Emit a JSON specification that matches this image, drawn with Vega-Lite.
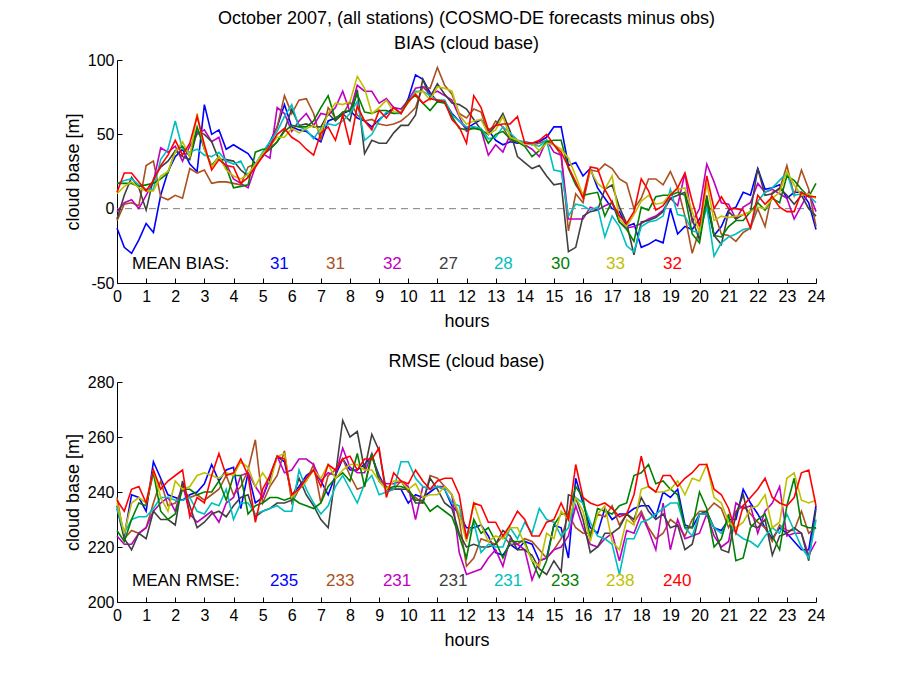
{
"$schema":"https://vega.github.io/schema/vega-lite/v6.json",
"autosize":{"type":"pad"},
"padding":{"left":64,"top":10,"right":0,"bottom":0},
"background":"white",
"bounds":"flush",
"spacing":99,
"config":{"font":"Liberation Sans","view":{"stroke":null},
"axis":{"labelFontSize":16,"titleFontSize":18,"titleFontWeight":"normal","labelColor":"black","titleColor":"black","domainColor":"black","tickColor":"black","grid":false,"tickSize":-5,"labelPadding":8,"domainWidth":1,"tickWidth":1,"labelFlush":false,"labelOverlap":false},
"title":{"fontSize":18,"fontWeight":"normal","color":"black"},
"text":{"fontSize":17,"align":"left","baseline":"middle"}},
"datasets":{
"bias":[
{"h":0,"b":-13,"n":-8,"m":-2,"k":-7,"c":17,"g":17,"y":10,"r":11},
{"h":0.25,"b":-26,"n":3,"m":4,"k":9,"c":19,"g":17,"y":15,"r":24},
{"h":0.5,"b":-30,"n":4,"m":6,"k":21,"c":20,"g":17,"y":18,"r":24},
{"h":0.75,"b":-21,"n":2,"m":0,"k":14,"c":16,"g":15,"y":14,"r":18},
{"h":1,"b":-10,"n":29,"m":9,"k":-1,"c":13,"g":16,"y":12,"r":12},
{"h":1.25,"b":-16,"n":32,"m":18,"k":20,"c":13,"g":17,"y":12,"r":19},
{"h":1.5,"b":9,"n":8,"m":41,"k":28,"c":33,"g":20,"y":22,"r":29},
{"h":1.75,"b":25,"n":6,"m":38,"k":32,"c":40,"g":24,"y":25,"r":36},
{"h":2,"b":35,"n":9,"m":42,"k":39,"c":59,"g":39,"y":38,"r":46},
{"h":2.25,"b":40,"n":7,"m":32,"k":35,"c":40,"g":42,"y":45,"r":36},
{"h":2.5,"b":30,"n":27,"m":42,"k":33,"c":38,"g":35,"y":35,"r":44},
{"h":2.75,"b":25,"n":24,"m":50,"k":52,"c":40,"g":55,"y":64,"r":62},
{"h":3,"b":70,"n":26,"m":53,"k":50,"c":36,"g":40,"y":40,"r":43},
{"h":3.25,"b":50,"n":17,"m":45,"k":45,"c":35,"g":29,"y":28,"r":26},
{"h":3.5,"b":53,"n":18,"m":48,"k":33,"c":38,"g":35,"y":35,"r":33},
{"h":3.75,"b":40,"n":18,"m":30,"k":33,"c":32,"g":28,"y":26,"r":29},
{"h":4,"b":43,"n":17,"m":20,"k":32,"c":30,"g":14,"y":22,"r":28},
{"h":4.25,"b":40,"n":16,"m":17,"k":26,"c":32,"g":15,"y":20,"r":17},
{"h":4.5,"b":37,"n":28,"m":14,"k":22,"c":22,"g":16,"y":23,"r":21},
{"h":4.75,"b":30,"n":30,"m":28,"k":30,"c":30,"g":38,"y":30,"r":28},
{"h":5,"b":35,"n":36,"m":37,"k":36,"c":38,"g":40,"y":37,"r":35},
{"h":5.25,"b":45,"n":42,"m":34,"k":40,"c":45,"g":40,"y":42,"r":42},
{"h":5.5,"b":55,"n":55,"m":68,"k":45,"c":52,"g":45,"y":48,"r":50},
{"h":5.75,"b":70,"n":76,"m":64,"k":53,"c":62,"g":52,"y":48,"r":54},
{"h":6,"b":55,"n":64,"m":52,"k":67,"c":70,"g":56,"y":54,"r":48},
{"h":6.25,"b":53,"n":73,"m":59,"k":56,"c":55,"g":55,"y":51,"r":45},
{"h":6.5,"b":52,"n":74,"m":64,"k":57,"c":53,"g":55,"y":54,"r":40},
{"h":6.75,"b":48,"n":64,"m":56,"k":55,"c":47,"g":59,"y":56,"r":36},
{"h":7,"b":45,"n":46,"m":64,"k":55,"c":54,"g":68,"y":52,"r":51},
{"h":7.25,"b":59,"n":68,"m":63,"k":64,"c":57,"g":76,"y":64,"r":55},
{"h":7.5,"b":61,"n":61,"m":68,"k":59,"c":56,"g":60,"y":71,"r":46},
{"h":7.75,"b":64,"n":63,"m":79,"k":64,"c":59,"g":65,"y":70,"r":63},
{"h":8,"b":66,"n":72,"m":65,"k":59,"c":64,"g":66,"y":72,"r":43},
{"h":8.25,"b":61,"n":63,"m":83,"k":80,"c":72,"g":77,"y":89,"r":69},
{"h":8.5,"b":59,"n":59,"m":79,"k":37,"c":46,"g":65,"y":81,"r":59},
{"h":8.75,"b":55,"n":60,"m":79,"k":46,"c":50,"g":64,"y":64,"r":53},
{"h":9,"b":60,"n":57,"m":71,"k":44,"c":59,"g":66,"y":68,"r":66},
{"h":9.25,"b":64,"n":56,"m":74,"k":44,"c":65,"g":66,"y":73,"r":61},
{"h":9.5,"b":68,"n":57,"m":68,"k":51,"c":64,"g":64,"y":65,"r":68},
{"h":9.75,"b":64,"n":59,"m":67,"k":56,"c":64,"g":65,"y":65,"r":64},
{"h":10,"b":74,"n":63,"m":73,"k":56,"c":72,"g":73,"y":71,"r":72},
{"h":10.25,"b":90,"n":68,"m":81,"k":63,"c":79,"g":76,"y":78,"r":77},
{"h":10.5,"b":87,"n":82,"m":82,"k":87,"c":79,"g":71,"y":79,"r":71},
{"h":10.75,"b":78,"n":81,"m":77,"k":75,"c":76,"g":66,"y":73,"r":74},
{"h":11,"b":72,"n":95,"m":79,"k":84,"c":73,"g":72,"y":82,"r":73},
{"h":11.25,"b":72,"n":83,"m":76,"k":77,"c":73,"g":71,"y":81,"r":72},
{"h":11.5,"b":64,"n":77,"m":73,"k":71,"c":63,"g":62,"y":79,"r":60},
{"h":11.75,"b":59,"n":64,"m":62,"k":70,"c":59,"g":54,"y":63,"r":55},
{"h":12,"b":54,"n":61,"m":52,"k":67,"c":55,"g":53,"y":57,"r":44},
{"h":12.25,"b":57,"n":67,"m":55,"k":60,"c":55,"g":54,"y":59,"r":76},
{"h":12.5,"b":60,"n":65,"m":53,"k":53,"c":54,"g":53,"y":60,"r":68},
{"h":12.75,"b":53,"n":50,"m":36,"k":50,"c":47,"g":44,"y":50,"r":53},
{"h":13,"b":46,"n":59,"m":43,"k":56,"c":48,"g":50,"y":53,"r":56},
{"h":13.25,"b":43,"n":55,"m":38,"k":64,"c":55,"g":52,"y":62,"r":57},
{"h":13.5,"b":45,"n":46,"m":50,"k":52,"c":51,"g":47,"y":48,"r":57},
{"h":13.75,"b":44,"n":45,"m":46,"k":35,"c":46,"g":45,"y":46,"r":62},
{"h":14,"b":45,"n":44,"m":43,"k":31,"c":45,"g":42,"y":43,"r":44},
{"h":14.25,"b":44,"n":43,"m":40,"k":27,"c":43,"g":35,"y":44,"r":44},
{"h":14.5,"b":45,"n":44,"m":35,"k":29,"c":42,"g":39,"y":39,"r":46},
{"h":14.75,"b":48,"n":46,"m":46,"k":22,"c":46,"g":45,"y":44,"r":50},
{"h":15,"b":55,"n":43,"m":38,"k":16,"c":26,"g":46,"y":43,"r":43},
{"h":15.25,"b":55,"n":36,"m":36,"k":17,"c":25,"g":46,"y":40,"r":38},
{"h":15.5,"b":29,"n":-15,"m":-7,"k":-29,"c":-5,"g":27,"y":34,"r":28},
{"h":15.75,"b":31,"n":10,"m":-7,"k":-26,"c":3,"g":16,"y":22,"r":18},
{"h":16,"b":22,"n":4,"m":-7,"k":-5,"c":2,"g":9,"y":9,"r":7},
{"h":16.25,"b":27,"n":26,"m":1,"k":-2,"c":-1,"g":10,"y":26,"r":28},
{"h":16.5,"b":14,"n":25,"m":-1,"k":-1,"c":1,"g":11,"y":17,"r":27},
{"h":16.75,"b":7,"n":30,"m":2,"k":13,"c":-19,"g":-5,"y":13,"r":13},
{"h":17,"b":0,"n":27,"m":4,"k":16,"c":-5,"g":5,"y":22,"r":4},
{"h":17.25,"b":-2,"n":20,"m":-9,"k":1,"c":-12,"g":-9,"y":-7,"r":-5},
{"h":17.5,"b":-12,"n":17,"m":-13,"k":-10,"c":-25,"g":-14,"y":-12,"r":-10},
{"h":17.75,"b":-10,"n":0,"m":-12,"k":-31,"c":-29,"g":-22,"y":-4,"r":-2},
{"h":18,"b":-26,"n":7,"m":-10,"k":-9,"c":-12,"g":1,"y":5,"r":20},
{"h":18.25,"b":-24,"n":20,"m":-7,"k":-8,"c":-9,"g":-1,"y":9,"r":12},
{"h":18.5,"b":-21,"n":20,"m":-5,"k":-6,"c":-8,"g":8,"y":3,"r":-1},
{"h":18.75,"b":-23,"n":16,"m":-1,"k":-2,"c":-5,"g":9,"y":4,"r":2},
{"h":19,"b":0,"n":25,"m":7,"k":7,"c":13,"g":9,"y":10,"r":9},
{"h":19.25,"b":-17,"n":14,"m":2,"k":9,"c":-4,"g":11,"y":13,"r":14},
{"h":19.5,"b":-12,"n":-5,"m":24,"k":11,"c":-5,"g":9,"y":14,"r":24},
{"h":19.75,"b":-14,"n":-30,"m":-9,"k":-7,"c":-15,"g":-17,"y":-2,"r":5},
{"h":20,"b":-7,"n":-14,"m":0,"k":-21,"c":-16,"g":-23,"y":-16,"r":-12},
{"h":20.25,"b":3,"n":2,"m":30,"k":9,"c":1,"g":7,"y":17,"r":22},
{"h":20.5,"b":-18,"n":-2,"m":18,"k":-18,"c":-32,"g":-18,"y":-8,"r":0},
{"h":20.75,"b":-12,"n":-17,"m":4,"k":-24,"c":-23,"g":-19,"y":-5,"r":8},
{"h":21,"b":-1,"n":-18,"m":3,"k":-2,"c":-19,"g":-12,"y":-6,"r":0},
{"h":21.25,"b":1,"n":-22,"m":-7,"k":-7,"c":-17,"g":-8,"y":-5,"r":0},
{"h":21.5,"b":11,"n":-16,"m":1,"k":-4,"c":-14,"g":-8,"y":-4,"r":-1},
{"h":21.75,"b":9,"n":-13,"m":4,"k":-2,"c":-13,"g":-2,"y":-2,"r":-13},
{"h":22,"b":27,"n":0,"m":17,"k":27,"c":5,"g":4,"y":1,"r":9},
{"h":22.25,"b":13,"n":-12,"m":11,"k":9,"c":11,"g":-1,"y":0,"r":3},
{"h":22.5,"b":14,"n":11,"m":13,"k":10,"c":14,"g":7,"y":7,"r":8},
{"h":22.75,"b":16,"n":13,"m":10,"k":14,"c":19,"g":4,"y":11,"r":1},
{"h":23,"b":7,"n":29,"m":7,"k":9,"c":24,"g":22,"y":25,"r":-2},
{"h":23.25,"b":11,"n":9,"m":-7,"k":3,"c":9,"g":19,"y":16,"r":-2},
{"h":23.5,"b":11,"n":26,"m":2,"k":9,"c":10,"g":13,"y":9,"r":11},
{"h":23.75,"b":4,"n":13,"m":11,"k":0,"c":9,"g":8,"y":10,"r":8},
{"h":24,"b":-14,"n":-12,"m":-2,"k":-5,"c":4,"g":17,"y":7,"r":8}
],
"rmse":[
{"h":0,"b":235,"n":238,"m":224,"k":234,"c":234,"g":226,"y":236,"r":237},
{"h":0.25,"b":224,"n":223,"m":221,"k":223,"c":225,"g":222,"y":225,"r":233},
{"h":0.5,"b":239,"n":226,"m":221,"k":219,"c":230,"g":230,"y":236,"r":241},
{"h":0.75,"b":238,"n":225,"m":225,"k":225,"c":231,"g":236,"y":238,"r":242},
{"h":1,"b":233,"n":227,"m":227,"k":223,"c":231,"g":235,"y":236,"r":236},
{"h":1.25,"b":251,"n":236,"m":233,"k":233,"c":234,"g":247,"y":248,"r":248},
{"h":1.5,"b":245,"n":244,"m":236,"k":230,"c":238,"g":233,"y":238,"r":241},
{"h":1.75,"b":239,"n":235,"m":238,"k":230,"c":238,"g":230,"y":233,"r":244},
{"h":2,"b":238,"n":236,"m":233,"k":228,"c":237,"g":232,"y":244,"r":246},
{"h":2.25,"b":237,"n":241,"m":243,"k":244,"c":237,"g":241,"y":241,"r":248},
{"h":2.5,"b":239,"n":238,"m":232,"k":235,"c":238,"g":241,"y":242,"r":231},
{"h":2.75,"b":240,"n":239,"m":229,"k":227,"c":233,"g":239,"y":246,"r":238},
{"h":3,"b":243,"n":237,"m":231,"k":229,"c":232,"g":240,"y":247,"r":236},
{"h":3.25,"b":250,"n":239,"m":233,"k":232,"c":236,"g":240,"y":246,"r":246},
{"h":3.5,"b":244,"n":241,"m":229,"k":233,"c":235,"g":244,"y":245,"r":254},
{"h":3.75,"b":248,"n":246,"m":236,"k":231,"c":241,"g":237,"y":247,"r":246},
{"h":4,"b":249,"n":239,"m":238,"k":235,"c":230,"g":246,"y":246,"r":247},
{"h":4.25,"b":234,"n":242,"m":246,"k":238,"c":236,"g":246,"y":251,"r":252},
{"h":4.5,"b":247,"n":248,"m":247,"k":239,"c":236,"g":232,"y":249,"r":246},
{"h":4.75,"b":236,"n":259,"m":242,"k":231,"c":232,"g":235,"y":242,"r":229},
{"h":5,"b":238,"n":236,"m":238,"k":233,"c":233,"g":236,"y":247,"r":241},
{"h":5.25,"b":245,"n":242,"m":246,"k":234,"c":234,"g":238,"y":243,"r":246},
{"h":5.5,"b":253,"n":246,"m":253,"k":236,"c":235,"g":238,"y":253,"r":253},
{"h":5.75,"b":251,"n":255,"m":247,"k":236,"c":233,"g":237,"y":254,"r":252},
{"h":6,"b":239,"n":236,"m":248,"k":237,"c":233,"g":238,"y":238,"r":239},
{"h":6.25,"b":242,"n":241,"m":252,"k":245,"c":248,"g":236,"y":241,"r":241},
{"h":6.5,"b":246,"n":244,"m":252,"k":239,"c":241,"g":235,"y":244,"r":245},
{"h":6.75,"b":248,"n":250,"m":250,"k":235,"c":236,"g":234,"y":248,"r":248},
{"h":7,"b":244,"n":236,"m":244,"k":230,"c":232,"g":236,"y":245,"r":242},
{"h":7.25,"b":239,"n":246,"m":247,"k":227,"c":235,"g":242,"y":250,"r":250},
{"h":7.5,"b":246,"n":248,"m":246,"k":246,"c":242,"g":245,"y":245,"r":248},
{"h":7.75,"b":252,"n":252,"m":256,"k":266,"c":246,"g":247,"y":248,"r":252},
{"h":8,"b":248,"n":246,"m":249,"k":260,"c":241,"g":244,"y":250,"r":253},
{"h":8.25,"b":248,"n":241,"m":247,"k":262,"c":236,"g":254,"y":250,"r":248},
{"h":8.5,"b":250,"n":242,"m":247,"k":248,"c":243,"g":242,"y":248,"r":252},
{"h":8.75,"b":253,"n":253,"m":254,"k":261,"c":246,"g":254,"y":248,"r":252},
{"h":9,"b":246,"n":245,"m":244,"k":255,"c":239,"g":244,"y":244,"r":256},
{"h":9.25,"b":241,"n":242,"m":243,"k":240,"c":240,"g":241,"y":241,"r":238},
{"h":9.5,"b":241,"n":241,"m":243,"k":241,"c":241,"g":242,"y":244,"r":247},
{"h":9.75,"b":241,"n":244,"m":244,"k":241,"c":251,"g":242,"y":244,"r":244},
{"h":10,"b":236,"n":240,"m":242,"k":241,"c":251,"g":241,"y":241,"r":243},
{"h":10.25,"b":239,"n":238,"m":230,"k":236,"c":245,"g":237,"y":243,"r":248},
{"h":10.5,"b":238,"n":236,"m":242,"k":236,"c":242,"g":237,"y":238,"r":244},
{"h":10.75,"b":240,"n":246,"m":241,"k":245,"c":241,"g":233,"y":239,"r":241},
{"h":11,"b":242,"n":245,"m":242,"k":241,"c":242,"g":235,"y":239,"r":244},
{"h":11.25,"b":241,"n":242,"m":242,"k":236,"c":241,"g":233,"y":242,"r":245},
{"h":11.5,"b":235,"n":239,"m":239,"k":234,"c":236,"g":231,"y":239,"r":245},
{"h":11.75,"b":232,"n":230,"m":218,"k":225,"c":235,"g":224,"y":232,"r":239},
{"h":12,"b":227,"n":213,"m":210,"k":220,"c":223,"g":216,"y":222,"r":223},
{"h":12.25,"b":227,"n":216,"m":211,"k":221,"c":229,"g":230,"y":236,"r":236},
{"h":12.5,"b":228,"n":223,"m":212,"k":220,"c":218,"g":225,"y":228,"r":235},
{"h":12.75,"b":224,"n":222,"m":216,"k":220,"c":221,"g":227,"y":222,"r":229},
{"h":13,"b":218,"n":221,"m":219,"k":221,"c":220,"g":222,"y":224,"r":229},
{"h":13.25,"b":217,"n":224,"m":213,"k":226,"c":220,"g":216,"y":223,"r":224},
{"h":13.5,"b":221,"n":221,"m":223,"k":224,"c":227,"g":222,"y":227,"r":228},
{"h":13.75,"b":219,"n":221,"m":221,"k":219,"c":223,"g":222,"y":227,"r":233},
{"h":14,"b":222,"n":223,"m":219,"k":219,"c":229,"g":222,"y":221,"r":230},
{"h":14.25,"b":221,"n":222,"m":208,"k":217,"c":225,"g":215,"y":215,"r":224},
{"h":14.5,"b":215,"n":219,"m":215,"k":212,"c":234,"g":209,"y":213,"r":224},
{"h":14.75,"b":216,"n":216,"m":216,"k":210,"c":230,"g":215,"y":225,"r":229},
{"h":15,"b":228,"n":219,"m":219,"k":215,"c":229,"g":228,"y":223,"r":230},
{"h":15.25,"b":227,"n":223,"m":220,"k":211,"c":224,"g":232,"y":233,"r":236},
{"h":15.5,"b":216,"n":232,"m":224,"k":239,"c":227,"g":232,"y":230,"r":230},
{"h":15.75,"b":245,"n":227,"m":235,"k":238,"c":238,"g":242,"y":238,"r":250},
{"h":16,"b":236,"n":225,"m":227,"k":230,"c":236,"g":238,"y":233,"r":238},
{"h":16.25,"b":227,"n":225,"m":221,"k":218,"c":229,"g":223,"y":222,"r":236},
{"h":16.5,"b":225,"n":232,"m":220,"k":220,"c":224,"g":234,"y":232,"r":235},
{"h":16.75,"b":234,"n":231,"m":223,"k":225,"c":223,"g":233,"y":235,"r":236},
{"h":17,"b":230,"n":235,"m":225,"k":225,"c":221,"g":232,"y":222,"r":234},
{"h":17.25,"b":232,"n":228,"m":215,"k":227,"c":210,"g":235,"y":219,"r":231},
{"h":17.5,"b":232,"n":232,"m":226,"k":232,"c":223,"g":236,"y":230,"r":232},
{"h":17.75,"b":234,"n":229,"m":225,"k":230,"c":223,"g":246,"y":228,"r":239},
{"h":18,"b":235,"n":233,"m":232,"k":238,"c":229,"g":247,"y":241,"r":253},
{"h":18.25,"b":235,"n":227,"m":226,"k":233,"c":230,"g":250,"y":242,"r":242},
{"h":18.5,"b":231,"n":223,"m":219,"k":230,"c":232,"g":243,"y":240,"r":240},
{"h":18.75,"b":240,"n":225,"m":236,"k":232,"c":234,"g":244,"y":240,"r":246},
{"h":19,"b":238,"n":230,"m":219,"k":227,"c":236,"g":241,"y":241,"r":246},
{"h":19.25,"b":241,"n":228,"m":230,"k":228,"c":236,"g":239,"y":244,"r":242},
{"h":19.5,"b":228,"n":224,"m":223,"k":219,"c":227,"g":227,"y":239,"r":245},
{"h":19.75,"b":227,"n":230,"m":224,"k":221,"c":224,"g":227,"y":245,"r":247},
{"h":20,"b":232,"n":233,"m":225,"k":232,"c":232,"g":240,"y":244,"r":250},
{"h":20.25,"b":232,"n":233,"m":232,"k":233,"c":232,"g":234,"y":250,"r":250},
{"h":20.5,"b":227,"n":236,"m":224,"k":227,"c":227,"g":220,"y":238,"r":241},
{"h":20.75,"b":226,"n":234,"m":220,"k":219,"c":225,"g":223,"y":236,"r":239},
{"h":21,"b":230,"n":227,"m":222,"k":218,"c":230,"g":232,"y":229,"r":234},
{"h":21.25,"b":230,"n":233,"m":236,"k":232,"c":225,"g":215,"y":227,"r":225},
{"h":21.5,"b":241,"n":235,"m":234,"k":239,"c":223,"g":216,"y":229,"r":235},
{"h":21.75,"b":236,"n":232,"m":235,"k":228,"c":222,"g":227,"y":234,"r":238},
{"h":22,"b":232,"n":229,"m":225,"k":227,"c":220,"g":230,"y":235,"r":241},
{"h":22.25,"b":227,"n":227,"m":233,"k":230,"c":224,"g":232,"y":239,"r":245},
{"h":22.5,"b":223,"n":222,"m":236,"k":217,"c":227,"g":224,"y":227,"r":238},
{"h":22.75,"b":227,"n":228,"m":242,"k":224,"c":225,"g":219,"y":229,"r":236},
{"h":23,"b":225,"n":226,"m":224,"k":225,"c":232,"g":235,"y":245,"r":235},
{"h":23.25,"b":222,"n":226,"m":225,"k":227,"c":226,"g":245,"y":247,"r":238},
{"h":23.5,"b":219,"n":233,"m":225,"k":225,"c":220,"g":228,"y":237,"r":247},
{"h":23.75,"b":219,"n":225,"m":217,"k":215,"c":216,"g":227,"y":236,"r":248},
{"h":24,"b":235,"n":227,"m":222,"k":234,"c":230,"g":227,"y":237,"r":235}
]},
"vconcat":[
{"width":699,"height":223,
"title":{"text":["October 2007, (all stations) (COSMO-DE forecasts minus obs)","BIAS (cloud base)"],"anchor":"middle","lineHeight":25,"offset":-1},
"resolve":{"axis":{"x":"independent","y":"independent"}},
"layer":[
{"data":{"values":[{}]},"mark":{"type":"rule","strokeDash":[7,5],"color":"#808080","strokeWidth":1},"encoding":{"y":{"datum":0,"type":"quantitative","axis":null}}},
{"data":{"name":"bias"},"transform":[{"fold":["b","n","m","k","c","g","y","r"],"as":["s","v"]}],
"mark":{"type":"line","strokeWidth":1.6},
"encoding":{
"x":{"field":"h","type":"quantitative","scale":{"domain":[0,24],"nice":false},"axis":{"title":"hours","values":[0,1,2,3,4,5,6,7,8,9,10,11,12,13,14,15,16,17,18,19,20,21,22,23,24],"labelOverlap":false,"labelPadding":10,"titlePadding":8}},
"y":{"field":"v","type":"quantitative","scale":{"domain":[-50,100],"nice":false},"axis":{"title":"cloud base [m]","values":[-50,0,50,100],"labelOverlap":false,"labelExpr":"datum.value < 0 ? '-' + abs(datum.value) : '' + datum.value","titlePadding":5}},
"color":{"field":"s","type":"nominal","scale":{"domain":["b","n","m","k","c","g","y","r"],"range":["#0000ff","#aa5020","#c000c0","#404040","#00bfbf","#008000","#bfbf00","#ff0000"]},"legend":null}}},
{"data":{"values":[{"t":"MEAN BIAS:"}]},"mark":{"type":"text","color":"black"},"encoding":{"x":{"datum":0.515,"axis":null},"y":{"datum":-37,"axis":null},"text":{"field":"t"}}},
{"data":{"values":[{"s":"b","mean":31}]},"mark":"text","encoding":{"x":{"datum":5.25,"axis":null},"y":{"datum":-37,"axis":null},"text":{"field":"mean"},"color":{"field":"s","type":"nominal"}}},
{"data":{"values":[{"s":"n","mean":31}]},"mark":"text","encoding":{"x":{"datum":7.18,"axis":null},"y":{"datum":-37,"axis":null},"text":{"field":"mean"},"color":{"field":"s","type":"nominal"}}},
{"data":{"values":[{"s":"m","mean":32}]},"mark":"text","encoding":{"x":{"datum":9.13,"axis":null},"y":{"datum":-37,"axis":null},"text":{"field":"mean"},"color":{"field":"s","type":"nominal"}}},
{"data":{"values":[{"s":"k","mean":27}]},"mark":"text","encoding":{"x":{"datum":11.06,"axis":null},"y":{"datum":-37,"axis":null},"text":{"field":"mean"},"color":{"field":"s","type":"nominal"}}},
{"data":{"values":[{"s":"c","mean":28}]},"mark":"text","encoding":{"x":{"datum":12.94,"axis":null},"y":{"datum":-37,"axis":null},"text":{"field":"mean"},"color":{"field":"s","type":"nominal"}}},
{"data":{"values":[{"s":"g","mean":30}]},"mark":"text","encoding":{"x":{"datum":14.9,"axis":null},"y":{"datum":-37,"axis":null},"text":{"field":"mean"},"color":{"field":"s","type":"nominal"}}},
{"data":{"values":[{"s":"y","mean":33}]},"mark":"text","encoding":{"x":{"datum":16.79,"axis":null},"y":{"datum":-37,"axis":null},"text":{"field":"mean"},"color":{"field":"s","type":"nominal"}}},
{"data":{"values":[{"s":"r","mean":32}]},"mark":"text","encoding":{"x":{"datum":18.75,"axis":null},"y":{"datum":-37,"axis":null},"text":{"field":"mean"},"color":{"field":"s","type":"nominal"}}}
]},
{"width":699,"height":220,
"title":{"text":"RMSE (cloud base)","anchor":"middle","offset":3},
"resolve":{"axis":{"x":"independent","y":"independent"}},
"layer":[
{"data":{"name":"rmse"},"transform":[{"fold":["b","n","m","k","c","g","y","r"],"as":["s","v"]}],
"mark":{"type":"line","strokeWidth":1.6},
"encoding":{
"x":{"field":"h","type":"quantitative","scale":{"domain":[0,24],"nice":false},"axis":{"title":"hours","values":[0,1,2,3,4,5,6,7,8,9,10,11,12,13,14,15,16,17,18,19,20,21,22,23,24],"labelOverlap":false,"labelPadding":10,"titlePadding":8}},
"y":{"field":"v","type":"quantitative","scale":{"domain":[200,280],"nice":false},"axis":{"title":"cloud base [m]","values":[200,220,240,260,280],"labelOverlap":false,"titlePadding":5}},
"color":{"field":"s","type":"nominal","scale":{"domain":["b","n","m","k","c","g","y","r"],"range":["#0000ff","#aa5020","#c000c0","#404040","#00bfbf","#008000","#bfbf00","#ff0000"]},"legend":null}}},
{"data":{"values":[{"t":"MEAN RMSE:"}]},"mark":{"type":"text","color":"black"},"encoding":{"x":{"datum":0.515,"axis":null},"y":{"datum":207.5,"axis":null},"text":{"field":"t"}}},
{"data":{"values":[{"s":"b","mean":235}]},"mark":"text","encoding":{"x":{"datum":5.25,"axis":null},"y":{"datum":207.5,"axis":null},"text":{"field":"mean"},"color":{"field":"s","type":"nominal"}}},
{"data":{"values":[{"s":"n","mean":233}]},"mark":"text","encoding":{"x":{"datum":7.18,"axis":null},"y":{"datum":207.5,"axis":null},"text":{"field":"mean"},"color":{"field":"s","type":"nominal"}}},
{"data":{"values":[{"s":"m","mean":231}]},"mark":"text","encoding":{"x":{"datum":9.13,"axis":null},"y":{"datum":207.5,"axis":null},"text":{"field":"mean"},"color":{"field":"s","type":"nominal"}}},
{"data":{"values":[{"s":"k","mean":231}]},"mark":"text","encoding":{"x":{"datum":11.06,"axis":null},"y":{"datum":207.5,"axis":null},"text":{"field":"mean"},"color":{"field":"s","type":"nominal"}}},
{"data":{"values":[{"s":"c","mean":231}]},"mark":"text","encoding":{"x":{"datum":12.94,"axis":null},"y":{"datum":207.5,"axis":null},"text":{"field":"mean"},"color":{"field":"s","type":"nominal"}}},
{"data":{"values":[{"s":"g","mean":233}]},"mark":"text","encoding":{"x":{"datum":14.9,"axis":null},"y":{"datum":207.5,"axis":null},"text":{"field":"mean"},"color":{"field":"s","type":"nominal"}}},
{"data":{"values":[{"s":"y","mean":238}]},"mark":"text","encoding":{"x":{"datum":16.79,"axis":null},"y":{"datum":207.5,"axis":null},"text":{"field":"mean"},"color":{"field":"s","type":"nominal"}}},
{"data":{"values":[{"s":"r","mean":240}]},"mark":"text","encoding":{"x":{"datum":18.75,"axis":null},"y":{"datum":207.5,"axis":null},"text":{"field":"mean"},"color":{"field":"s","type":"nominal"}}}
]}
]
}
